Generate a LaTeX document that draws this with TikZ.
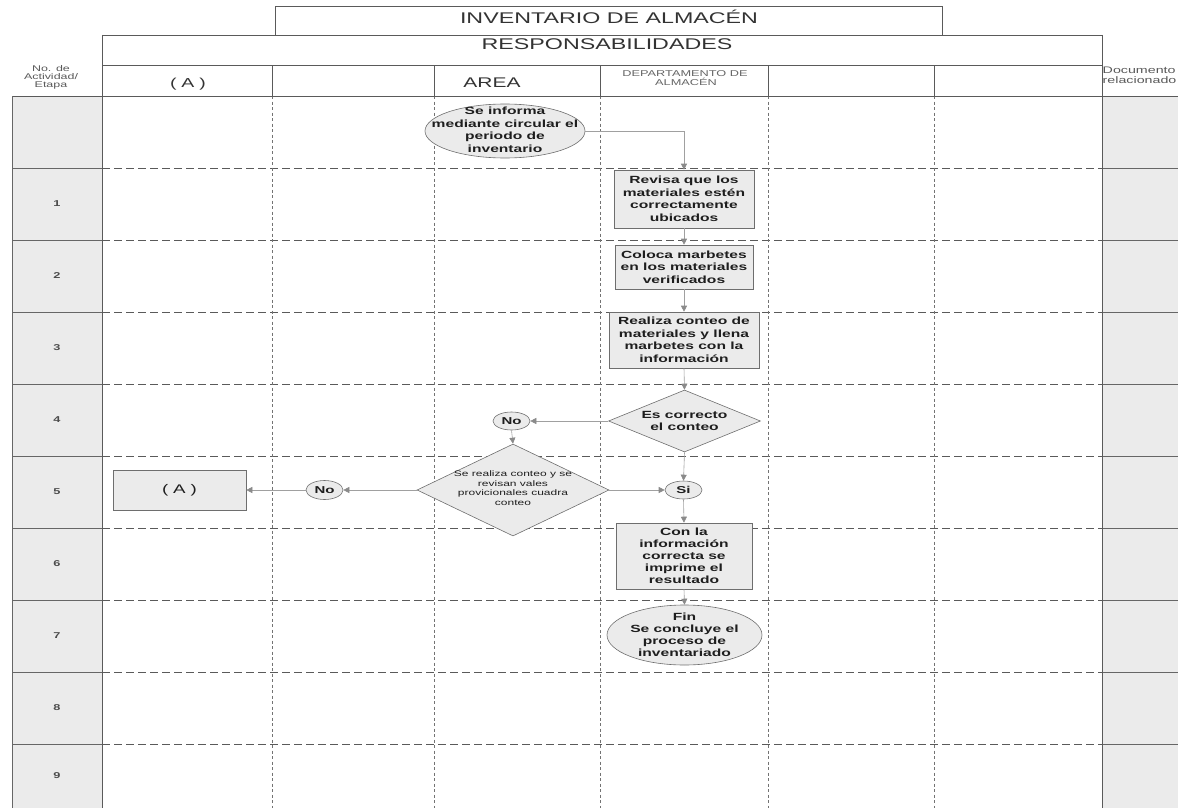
\documentclass[tikz,border=0pt]{standalone}
\usepackage{fontspec}
\setmainfont{Liberation Sans}[FakeStretch=1.5]
\usetikzlibrary{shapes.geometric,arrows.meta}
\newcommand{\fsz}[2]{\fontsize{#1}{#2}\selectfont}
\definecolor{shapefill}{HTML}{EBEBEB}
\definecolor{shapeline}{HTML}{6E6E6E}
\definecolor{conncol}{HTML}{A0A0A0}
\definecolor{tipcol}{HTML}{8A8A8A}
\definecolor{gridline}{HTML}{5A5A5A}
\definecolor{colfill}{HTML}{EBEBEB}
\definecolor{txt}{HTML}{1E1E1E}
\begin{document}
\begin{tikzpicture}[x=1pt,y=-1pt,
  frame/.style={draw=gridline, line width=0.7pt},
  hdash/.style={draw=gridline, line width=0.7pt, dash pattern=on 8pt off 4pt},
  vdash/.style={draw=black!55, line width=0.5pt, dash pattern=on 3pt off 2.5pt},
  sepline/.style={draw=black!60, line width=0.6pt},
  procbox/.style={rectangle, draw=shapeline, fill=shapefill, line width=0.6pt, inner sep=0pt, align=center, text=txt, font=\fsz{10.4}{12.5}\bfseries},
  term/.style={ellipse, draw=shapeline, fill=shapefill, line width=0.6pt, inner sep=0pt},
  decis/.style={diamond, aspect=1, draw=shapeline, fill=shapefill, line width=0.6pt, inner sep=0pt},
  lbl/.style={align=center, text=txt, inner sep=0pt},
  boldlbl/.style={lbl, font=\fsz{10.4}{12.5}\bfseries},
  conn/.style={draw=conncol, line width=0.6pt, -{Triangle[length=6pt,width=6pt,color=tipcol]}},
  hdr/.style={inner sep=0pt, anchor=base, text=black!80},
  rownum/.style={inner sep=0pt, text=black!70, font=\fsz{8.5}{10}\bfseries},
]
\useasboundingbox (0,0) rectangle (1178,808);

% side columns
\fill[colfill] (12,96) rectangle (102,808);
\fill[colfill] (1102,96) rectangle (1178,808);

% grid of rows
\foreach \yy in {168,240,312,384,456,528,600,672,744} {
  \draw[sepline] (12,\yy) -- (102,\yy);
  \draw[hdash] (102,\yy) -- (1102,\yy);
  \draw[sepline] (1102,\yy) -- (1178,\yy);
}
\foreach \xx in {272,434,600,768,934} {
  \draw[frame] (\xx,65.5) -- (\xx,96);
  \draw[vdash] (\xx,96) -- (\xx,808);
}

% frames
\draw[frame] (275,35) -- (275,6) -- (942,6) -- (942,35);
\draw[frame] (102,35) -- (1102,35);
\draw[frame] (102,65.5) -- (1102,65.5);
\draw[frame] (12,96) -- (1178,96);
\draw[frame] (102,35) -- (102,808);
\draw[frame] (1102,35) -- (1102,808);
\draw[sepline] (12,96) -- (12,808);

% header texts
\node[hdr, font=\fsz{15.5}{18}] (title) at (609,24) {INVENTARIO DE ALMACÉN};
\node[hdr, font=\fsz{15.5}{18}] (resp) at (607,50) {RESPONSABILIDADES};
\node[hdr, font=\fsz{13}{15}] (hA) at (188,88) {(\hspace{5pt}A\hspace{5pt})};
\node[hdr, font=\fsz{14}{16}] (harea) at (492,88) {AREA};
\node[hdr, font=\fsz{8.5}{9}, text=black!60] (hdep1) at (685,76.5) {DEPARTAMENTO DE};
\node[hdr, font=\fsz{8.5}{9}, text=black!60] (hdep2) at (686,85.5) {ALMACÉN};
\node[hdr, font=\fsz{8.3}{9}, text=black!65] (hno1) at (51,71) {No. de};
\node[hdr, font=\fsz{8.3}{9}, text=black!65] (hno2) at (51,79.5) {Actividad/};
\node[hdr, font=\fsz{8.3}{9}, text=black!65] (hno3) at (51,88) {Etapa};
\node[hdr, anchor=base west, font=\fsz{9.5}{9}, text=black!65] (hdoc1) at (1102.5,73.5) {Documento};
\node[hdr, anchor=base west, font=\fsz{9.5}{9}, text=black!65] (hdoc2) at (1102.5,83) {relacionado};

% row numbers
\node[rownum] (r1) at (57,204) {1};
\node[rownum] (r2) at (57,276) {2};
\node[rownum] (r3) at (57,348) {3};
\node[rownum] (r4) at (57,420) {4};
\node[rownum] (r5) at (57,492) {5};
\node[rownum] (r6) at (57,564) {6};
\node[rownum] (r7) at (57,636) {7};
\node[rownum] (r8) at (57,708) {8};
\node[rownum] (r9) at (57,776) {9};

% shapes
\node[term, minimum width=160, minimum height=54] (start) at (505,131) {};
\node[boldlbl] (starttxt) at (505,130) {Se informa\\mediante circular el\\periodo de\\inventario};

\node[procbox, minimum width=140, minimum height=58] (rev) at (684,199) {Revisa que los\\materiales estén\\correctamente\\ubicados};
\node[procbox, minimum width=138, minimum height=44] (col) at (684,267) {Coloca marbetes\\en los materiales\\verificados};
\node[procbox, minimum width=150, minimum height=56] (real) at (684,340) {Realiza conteo de\\materiales y llena\\marbetes con la\\información};

\node[decis, minimum width=152, minimum height=62] (d1) at (684.5,421) {};
\node[boldlbl] (d1txt) at (684.5,421) {Es correcto\\el conteo};

\node[term, minimum width=37, minimum height=18] (no1) at (511.5,421) {};
\node[boldlbl, font=\fsz{10}{12}\bfseries] (no1txt) at (511.5,421) {No};

\node[decis, minimum width=192, minimum height=92] (d2) at (513,490) {};
\node[lbl, font=\fsz{8}{9.5}] (d2txt) at (513,488) {Se realiza conteo y se\\revisan vales\\provicionales cuadra\\conteo};

\node[term, minimum width=37, minimum height=18] (si) at (683.5,490) {};
\node[boldlbl, font=\fsz{10}{12}\bfseries] (sitxt) at (683.5,490) {Si};

\node[term, minimum width=37, minimum height=19] (no2) at (324.5,490) {};
\node[boldlbl, font=\fsz{10}{12}\bfseries] (no2txt) at (324.5,490) {No};

\node[procbox, minimum width=133, minimum height=40, font=\fsz{12.5}{14}] (abox) at (179.5,490) {(\hspace{5pt}A\hspace{5pt})};

\node[procbox, minimum width=136, minimum height=66, font=\fsz{10.4}{12}\bfseries] (con) at (684,556) {Con la\\información\\correcta se\\imprime el\\resultado};

\node[term, minimum width=155, minimum height=60] (fin) at (684.5,635) {};
\node[boldlbl, font=\fsz{10.4}{12}\bfseries] (fintxt) at (684.5,635) {Fin\\Se concluye el\\proceso de\\inventariado};

% connectors
\draw[conn] (start.east) -| (rev.north);
\draw[conn] (rev.south) -- (col.north);
\draw[conn] (col.south) -- (real.north);
\draw[conn] (real.south) -- (d1.north);
\draw[conn] (d1.west) -- (no1.east);
\draw[conn] (no1.south) -- (d2.north);
\draw[conn] (d1.south) -- (si.north);
\draw[conn] (d2.east) -- (si.west);
\draw[conn] (d2.west) -- (no2.east);
\draw[conn] (no2.west) -- (abox.east);
\draw[conn] (si.south) -- (con.north);
\draw[conn] (con.south) -- (fin.north);
\end{tikzpicture}
\end{document}
